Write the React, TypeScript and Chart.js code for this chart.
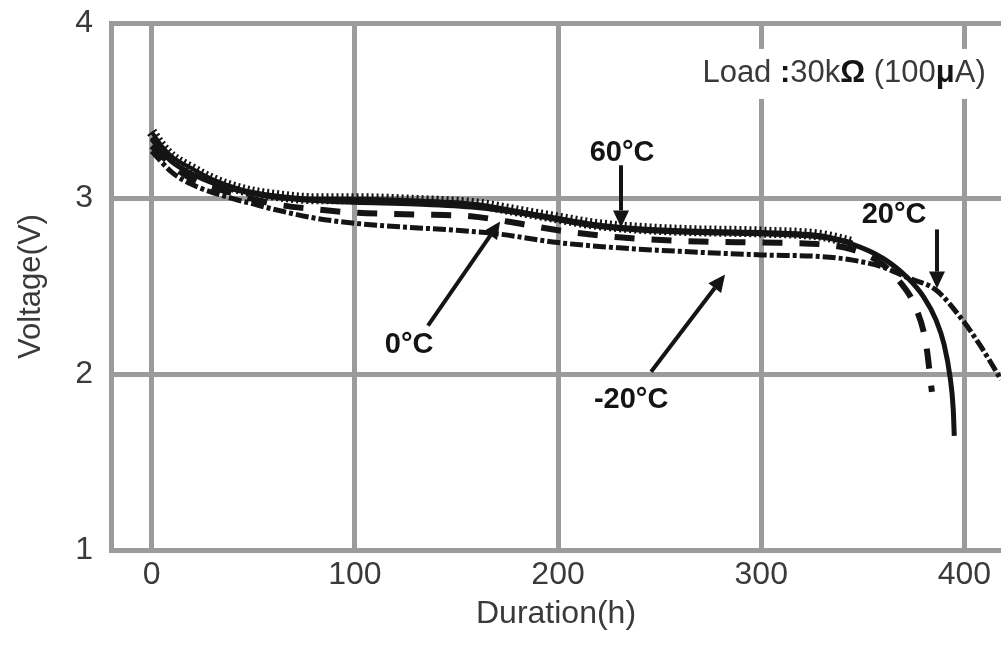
import React, { useEffect, useRef } from "react";
import { Chart, registerables } from "chart.js";

Chart.register(...registerables);

const FONT = "'Liberation Sans', Arial, sans-serif";
const TEXT_COLOR = "#3a3a3a";
const GRID_COLOR = "#9b9b9b";
const INK = "#141414";

// axis ranges and ticks
const xTicks = [0, 100, 200, 300, 400];
const xMin = -20;
const xMax = 418;
const yMin = 1;
const yMax = 4;
const yStep = 1;

// 60°C (hatched)
const hours60 = [0, 5, 10, 20, 30, 45, 60, 80, 100, 130, 160, 180, 200, 215, 230, 260, 300, 330, 345];
const volts60 = [3.38, 3.3, 3.24, 3.17, 3.11, 3.05, 3.02, 3.0, 3.0, 2.99, 2.97, 2.93, 2.89, 2.86, 2.84, 2.82, 2.81, 2.79, 2.75];

// solid curve
const hoursSolid = [0, 5, 10, 20, 30, 45, 60, 80, 100, 130, 160, 180, 200, 215, 230, 260, 300, 330, 345, 360, 372, 380, 386, 390, 393, 394.5, 395];
const voltsSolid = [3.34, 3.27, 3.21, 3.14, 3.09, 3.04, 3.01, 2.99, 2.98, 2.97, 2.95, 2.92, 2.88, 2.85, 2.83, 2.81, 2.8, 2.78, 2.74, 2.66, 2.55, 2.44, 2.31, 2.17, 1.98, 1.8, 1.65];

// 0°C (dashed)
const hours0 = [0, 10, 20, 40, 60, 80, 100, 130, 157, 175, 200, 230, 260, 300, 330, 345, 358, 368, 376, 381, 384];
const volts0 = [3.3, 3.19, 3.11, 3.03, 2.97, 2.94, 2.92, 2.91, 2.9, 2.87, 2.82, 2.78, 2.76, 2.75, 2.74, 2.71, 2.64, 2.53, 2.38, 2.18, 1.9];

// -20°C / 20°C (dash-dot, lowest plateau, longest)
const hoursDD = [0, 10, 20, 40, 50, 60, 80, 100, 122, 150, 170, 200, 230, 260, 300, 330, 345, 360, 372, 386, 399, 408, 418];
const voltsDD = [3.27, 3.15, 3.08, 3.0, 2.97, 2.94, 2.89, 2.86, 2.84, 2.82, 2.8, 2.75, 2.72, 2.7, 2.68, 2.67, 2.65, 2.61, 2.55, 2.48, 2.31, 2.16, 1.97];

// annotation labels: [text, hour, volt]
const labelTexts = ["60°C", "20°C", "0°C", "-20°C"];
const labelHours = [231.5, 365.4, 126.7, 236];
const labelVolts = [3.258, 2.905, 2.169, 1.855];
// arrows: from (h1,v1) to (h2,v2)
const arrowFromH = [231, 386.5, 136, 245.8];
const arrowFromV = [3.19, 2.825, 2.277, 2.015];
const arrowToH = [231, 386.5, 171.5, 282.2];
const arrowToV = [2.836, 2.488, 2.87, 2.568];

// load note, anchored right at (h, v)
const loadNoteParts = ["Load ", ":", "30k", "Ω", " (100", "μ", "A)"];
const loadNoteBold = [false, true, false, true, false, true, false];
const loadNoteH = 410.5;
const loadNoteV = 3.71;

const toPoints = (hs: number[], vs: number[]) => hs.map((h, i) => ({ x: h, y: vs[i] }));

const annotationPlugin = {
  id: "annots",
  afterDatasetsDraw(chart: any) {
    const { ctx, scales } = chart;
    const xs = scales.x;
    const ys = scales.y;
    ctx.save();

    // load note
    const size = 31;
    const fonts = loadNoteBold.map((b) => `${b ? "bold " : ""}${size}px ${FONT}`);
    let total = 0;
    const widths = loadNoteParts.map((p, i) => {
      ctx.font = fonts[i];
      const w = ctx.measureText(p).width;
      total += w;
      return w;
    });
    const rx = xs.getPixelForValue(loadNoteH);
    const ry = ys.getPixelForValue(loadNoteV);
    let sx = rx - total;
    ctx.fillStyle = "#ffffff";
    ctx.fillRect(sx - 6, ry - 25, total + 14, 50);
    ctx.textBaseline = "middle";
    ctx.textAlign = "left";
    loadNoteParts.forEach((p, i) => {
      ctx.font = fonts[i];
      ctx.fillStyle = loadNoteBold[i] ? INK : TEXT_COLOR;
      ctx.fillText(p, sx, ry);
      sx += widths[i];
    });

    // arrows
    ctx.strokeStyle = INK;
    ctx.fillStyle = INK;
    ctx.lineWidth = 4;
    ctx.lineCap = "butt";
    for (let i = 0; i < arrowFromH.length; i++) {
      const x1 = xs.getPixelForValue(arrowFromH[i]);
      const y1 = ys.getPixelForValue(arrowFromV[i]);
      const x2 = xs.getPixelForValue(arrowToH[i]);
      const y2 = ys.getPixelForValue(arrowToV[i]);
      const ang = Math.atan2(y2 - y1, x2 - x1);
      const headLen = 17;
      const headHalf = 8;
      const bx = x2 - headLen * Math.cos(ang);
      const by = y2 - headLen * Math.sin(ang);
      ctx.beginPath();
      ctx.moveTo(x1, y1);
      ctx.lineTo(bx, by);
      ctx.stroke();
      ctx.beginPath();
      ctx.moveTo(x2, y2);
      ctx.lineTo(bx + headHalf * Math.sin(ang), by - headHalf * Math.cos(ang));
      ctx.lineTo(bx - headHalf * Math.sin(ang), by + headHalf * Math.cos(ang));
      ctx.closePath();
      ctx.fill();
    }

    // labels
    ctx.font = `bold 29px ${FONT}`;
    ctx.fillStyle = INK;
    ctx.textAlign = "center";
    ctx.textBaseline = "middle";
    labelTexts.forEach((t, i) => {
      ctx.fillText(t, xs.getPixelForValue(labelHours[i]), ys.getPixelForValue(labelVolts[i]));
    });

    ctx.restore();
  },
};

export default function App() {
  const canvasRef = useRef<HTMLCanvasElement | null>(null);

  useEffect(() => {
    const canvas = canvasRef.current;
    if (!canvas) return;
    const common = { pointRadius: 0, fill: false, cubicInterpolationMode: "monotone" as const, borderColor: INK };
    const chart = new Chart(canvas, {
      type: "line",
      data: {
        datasets: [
          { ...common, label: "solid", data: toPoints(hoursSolid, voltsSolid), borderWidth: 5 },
          { ...common, label: "60°C", data: toPoints(hours60, volts60), borderWidth: 4 },
          { ...common, label: "60°C hatch", data: toPoints(hours60, volts60), borderWidth: 11, borderDash: [2, 3] },
          { ...common, label: "0°C", data: toPoints(hours0, volts0), borderWidth: 6, borderDash: [20, 17] },
          { ...common, label: "-20°C", data: toPoints(hoursDD, voltsDD), borderWidth: 5, borderDash: [13, 3, 4, 3] },
        ],
      },
      options: {
        animation: false,
        responsive: false,
        parsing: false as any,
        layout: { padding: { top: 23, right: 0, bottom: 0, left: 0 } },
        plugins: { legend: { display: false }, tooltip: { enabled: false } },
        scales: {
          x: {
            type: "linear",
            min: xMin,
            max: xMax,
            afterBuildTicks: (s: any) => {
              s.ticks = xTicks.map((v) => ({ value: v }));
            },
            afterFit: (s: any) => {
              s.height = 98;
            },
            ticks: { font: { size: 32, family: FONT }, color: TEXT_COLOR, padding: 6, maxRotation: 0, autoSkip: false },
            grid: { color: GRID_COLOR, lineWidth: 5, drawTicks: false },
            border: { color: GRID_COLOR, width: 5 },
            title: {
              display: true,
              text: "Duration(h)",
              font: { size: 32, family: FONT },
              color: TEXT_COLOR,
              padding: { top: 0, bottom: 15 },
            },
          },
          y: {
            type: "linear",
            min: yMin,
            max: yMax,
            afterFit: (s: any) => {
              s.width = 111;
              s.paddingTop = 0;
              s.paddingBottom = 0;
            },
            ticks: { stepSize: yStep, font: { size: 32, family: FONT }, color: TEXT_COLOR, padding: 18 },
            grid: { color: GRID_COLOR, lineWidth: 5, drawTicks: false },
            border: { color: GRID_COLOR, width: 5 },
            title: {
              display: true,
              text: "Voltage(V)",
              font: { size: 31, family: FONT },
              color: TEXT_COLOR,
              padding: { top: 13, bottom: 0 },
            },
          },
        },
      },
      plugins: [annotationPlugin],
    });
    return () => chart.destroy();
  }, []);

  return (
    <div style={{ position: "fixed", left: 0, top: 0, width: 1001, height: 648, background: "#ffffff" }}>
      <canvas ref={canvasRef} width={1001} height={648} style={{ display: "block", width: 1001, height: 648 }} />
    </div>
  );
}
